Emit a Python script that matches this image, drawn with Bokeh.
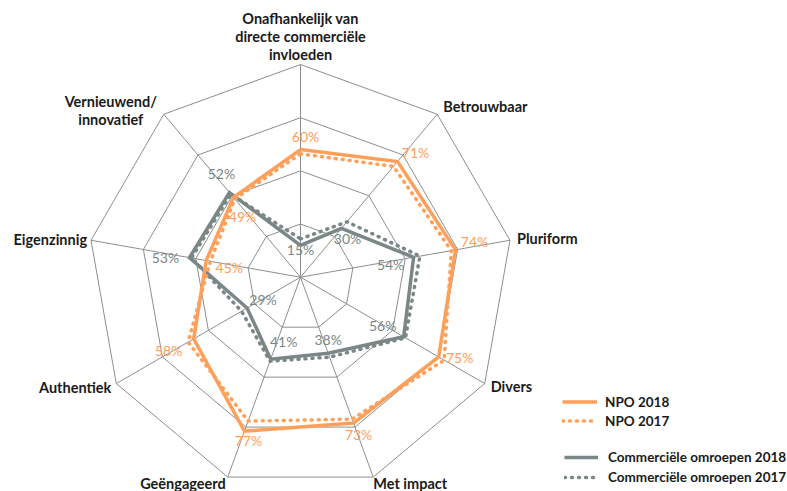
import math
from bokeh.plotting import figure
from bokeh.models import ColumnDataSource, Range1d, Legend, LegendItem
from bokeh.core.properties import value
from bokeh.embed import file_html
from bokeh.resources import INLINE

# ---------------- data ----------------
categories = ["Onafhankelijk van\ndirecte commerciële\ninvloeden", "Betrouwbaar", "Pluriform",
              "Divers", "Met impact", "Geëngageerd", "Authentiek", "Eigenzinnig",
              "Vernieuwend/\ninnovatief"]
npo_2018 = [60, 71, 74, 75, 73, 77, 58, 45, 49]
npo_2017 = [58, 68, 72, 78, 71, 72, 61, 43, 48]
com_2018 = [15, 30, 54, 56, 38, 41, 29, 53, 52]
com_2017 = [18, 34, 57, 57, 40, 42, 32, 52, 51]
ring_levels = [25, 50, 75, 100]
series_names = ["NPO 2018", "NPO 2017", "Commerciële omroepen 2018", "Commerciële omroepen 2017"]

# ---------------- style / layout ----------------
ORANGE = "#FFA05A"
GREY = "#7B8786"
GRID = "#8E8E8E"
TXT = "#1A1A1A"
FONT = "Lato"
PX = 2.127            # pixels per percent
W, H = 787, 491
CX, CY = 300, 276.7   # centre of the radar in figure pixels

# label offsets (screen px) for value labels
npo_lab_off = [(5, -13), (18, -9), (19, -8), (21, 1), (5, 11), (4, 9), (-25, 12), (23, 7), (9, 19)]
com_lab_off = [(0, 4), (6, 10), (-23, 7), (-21, -11), (0, -14), (13, -18), (16, -9), (-24, 0), (-8, -19)]
# category label placement: (align, dx, dy of first line centre)
cat_place = [("center", 0, -46), ("left", 6, -8), ("left", 7, -2), ("left", 6, 3),
             ("left", 0, 6), ("right", -2, 6), ("right", -5, 4), ("right", -4, -1),
             ("center", -53, -13)]
LINE_STEP = 18

n = len(categories)
angles = [2 * math.pi * i / n for i in range(n)]


def polar(vals):
    xs = [v * math.sin(a) for v, a in zip(vals, angles)]
    ys = [v * math.cos(a) for v, a in zip(vals, angles)]
    return xs, ys


def closed(vals):
    xs, ys = polar(vals)
    return xs + xs[:1], ys + ys[:1]


p = figure(width=W, height=H, output_backend="svg", toolbar_location=None,
           x_range=Range1d(-CX / PX, (W - CX) / PX), y_range=Range1d(-(H - CY) / PX, CY / PX),
           min_border=0, outline_line_color=None)
p.axis.visible = False
p.grid.visible = False
p.background_fill_color = "white"
p.border_fill_color = "white"

# grid rings and spokes
for lvl in ring_levels:
    xs, ys = closed([lvl] * n)
    p.line(xs, ys, line_color=GRID, line_width=1)
ox, oy = polar([ring_levels[-1]] * n)
p.segment(x0=[0] * n, y0=[0] * n, x1=ox, y1=oy, line_color=GRID, line_width=1)

LW = 3.5
xs, ys = closed(com_2017)
r_c17 = p.line(xs, ys, line_color=GREY, line_width=LW, line_dash="1 6", line_cap="round")
xs, ys = closed(com_2018)
r_c18 = p.line(xs, ys, line_color=GREY, line_width=LW, line_join="miter")
xs, ys = closed(npo_2017)
r_n17 = p.line(xs, ys, line_color=ORANGE, line_width=LW, line_dash="1 6", line_cap="round")
xs, ys = closed(npo_2018)
r_n18 = p.line(xs, ys, line_color=ORANGE, line_width=LW, line_join="miter")

# value labels
for vals, offs, col in [(npo_2018, npo_lab_off, ORANGE), (com_2018, com_lab_off, GREY)]:
    xs, ys = polar(vals)
    src = ColumnDataSource(dict(x=xs, y=ys, t=[f"{v}%" for v in vals],
                                dx=[o[0] for o in offs], dy=[o[1] for o in offs]))
    p.text(x="x", y="y", text="t", x_offset="dx", y_offset="dy", source=src,
           text_color=col, text_font=value(FONT), text_font_size="14px",
           text_align="center", text_baseline="middle")

# category labels
cx_, cy_ = polar([ring_levels[-1]] * n)
for i, name in enumerate(categories):
    align, dx, dy = cat_place[i]
    lines = name.split("\n")
    src = ColumnDataSource(dict(x=[cx_[i]] * len(lines), y=[cy_[i]] * len(lines), t=lines,
                                dy=[dy + LINE_STEP * k for k in range(len(lines))]))
    p.text(x="x", y="y", text="t", x_offset=dx, y_offset="dy", source=src,
           text_color=TXT, text_font=value(FONT), text_font_size="14.5px", text_font_style="bold",
           text_align=align, text_baseline="middle")

# legends
leg1 = Legend(items=[LegendItem(label=series_names[0], renderers=[r_n18]),
                     LegendItem(label=series_names[1], renderers=[r_n17])],
              location=(562, 61), padding=0, margin=0, spacing=0,
              glyph_width=35, glyph_height=19, label_height=19, label_standoff=8,
              border_line_alpha=0, background_fill_alpha=0,
              label_text_font=FONT, label_text_font_size="13.5px", label_text_font_style="bold",
              label_text_color=TXT)
leg2 = Legend(items=[LegendItem(label=series_names[2], renderers=[r_c18]),
                     LegendItem(label=series_names[3], renderers=[r_c17])],
              location=(564, 4), padding=0, margin=0, spacing=0,
              glyph_width=34, glyph_height=20, label_height=20, label_standoff=10,
              border_line_alpha=0, background_fill_alpha=0,
              label_text_font=FONT, label_text_font_size="13.5px", label_text_font_style="bold",
              label_text_color=TXT)
p.add_layout(leg1)
p.add_layout(leg2)

open("out.html", "w").write(file_html(p, INLINE))
